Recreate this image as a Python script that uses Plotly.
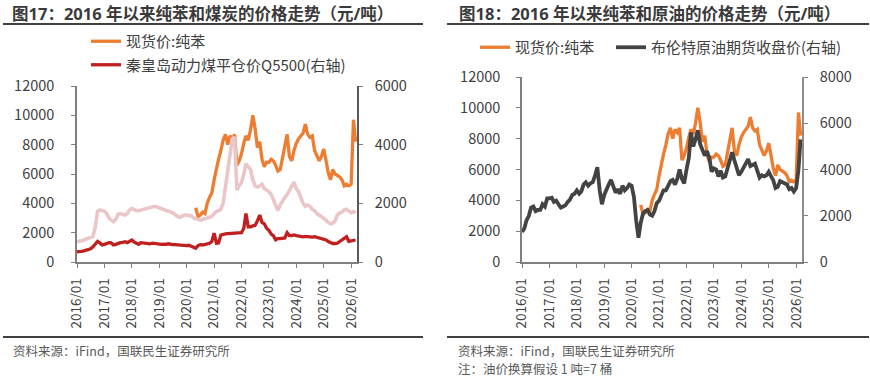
import plotly.graph_objects as go
import pandas as pd

# ---------------- data ----------------
months = pd.date_range("2016-01-01", "2026-03-01", freq="MS")
bz_months = pd.date_range("2020-05-01", "2026-03-01", freq="MS")

# 现货价:纯苯 (元/吨), from 2020-05
benzene = [
    3700, 3100, 3200, 3400, 3300, 4000, 4400, 4700,
    5600, 6500, 7000, 7600, 8300, 8700, 8000, 8600, 8400, 8700, 6600, 6900,
    7400, 8100, 8600, 8300, 9000, 10000, 9100, 7800, 8200, 7000, 6500, 6800,
    6800, 7000, 6900, 6600, 6200, 6300, 7000, 7800, 8700, 7200, 6900, 7600,
    8100, 8400, 8600, 8800, 9400, 8700, 8500, 8600, 7600, 7300, 6900, 7200,
    7700, 6900, 6100, 5600, 6300, 6000, 5900, 5800, 5600, 5200, 5300, 5200,
    5300, 9700, 8200,
]

# unlabeled light series in Fig.17 (left-axis units)
coal_light = [
    1390, 1400, 1450, 1500, 1550, 1610, 1700, 1750, 2400, 3450, 3550, 3500,
    3450, 3300, 3000, 2850, 2750, 2900, 3250, 3300, 3250, 3200, 3300, 3550,
    3650, 3550, 3500, 3500, 3550, 3550, 3600, 3650, 3700, 3750, 3800, 3750,
    3700, 3650, 3600, 3550, 3500, 3450, 3350, 3250, 3100, 3050, 3150, 3200,
    3200, 3200, 3150, 3000, 2950, 2900, 2850, 2900, 2950, 3000, 3050, 3100,
    3300, 3450, 3500, 3600, 4000, 5100, 6500, 7600, 8400, 8500, 4900, 5200,
    5400, 6000, 6700, 6500, 6300, 5600, 5200, 5100, 5200, 5300, 5000, 4900,
    4800, 4600, 4200, 3800, 3500, 3900, 4200, 4400, 4600, 4900, 5200, 5450,
    5000, 4800, 4400, 4000, 3800, 3900, 3800, 3600, 3500, 3300, 3200, 3100,
    3000, 2850, 2700, 2600, 2650, 2800, 3200, 3350, 3400, 3550, 3600, 3450,
    3350, 3450, 3350,
]

# 秦皇岛动力煤平仓价Q5500 (右轴)
coal_q5500 = [
    350, 350, 360, 380, 400, 410, 450, 520, 600, 700, 650, 580,
    600, 620, 660, 650, 580, 600, 640, 660, 670, 690, 660, 700,
    750, 680, 630, 600, 660, 650, 620, 630, 620, 640, 630, 610,
    620, 600, 610, 600, 620, 600, 590, 590, 580, 580, 570, 560,
    560, 570, 540, 480, 470, 560, 590, 580, 600, 620, 640, 700,
    980, 640, 650, 920, 950, 960, 970, 975, 975, 975, 975, 975,
    1000, 1150, 1650, 1200, 1200, 1230, 1250, 1400, 1600, 1350, 1300, 1150,
    1080, 950, 900, 760, 800, 800, 800, 820, 1000, 900, 900, 920,
    900, 880, 860, 860, 870, 860, 860, 850, 860, 840, 820, 800,
    770, 750, 700, 650, 630, 630, 640, 700, 760, 820, 860, 700,
    720, 740, 750,
]

# 布伦特原油期货收盘价 (右轴, 元/吨)
brent = [
    1300, 1450, 1800, 2000, 2350, 2400, 2200, 2250, 2250, 2500, 2400, 2750,
    2750, 2780, 2600, 2650, 2500, 2350, 2400, 2450, 2600, 2700, 2900, 2950,
    3100, 2950, 3050, 3350, 3450, 3300, 3400, 3450, 3750, 4100, 3100, 2500,
    2900, 3200, 3350, 3550, 3300, 3000, 3150, 2950, 3300, 3100, 3200, 3350,
    3300, 2800, 1800, 1050, 1700, 2100, 2200, 2250, 2050, 2000, 2200, 2550,
    2650, 2950, 3100, 3100, 3300, 3500, 3550, 3350, 3600, 4000, 3600, 3400,
    4000, 4500, 5600, 5000, 5300, 5700, 5100, 4800, 4600, 4800, 4500, 3900,
    4050, 4000, 3700, 3950, 3650, 3700, 4050, 4300, 4750, 4400, 4000, 3750,
    3900, 4100, 4250, 4450, 4150, 4200, 4250, 3950, 3650, 3750, 3700, 3750,
    3900, 3700, 3550, 3200, 3250, 3500, 3450, 3400, 3350, 3150, 3200, 3050,
    3200, 4000, 5300,
]

year_ticks = [f"{y}-01-01" for y in range(2016, 2027)]
year_labels = [f"{y}/01" for y in range(2016, 2027)]

# ---------------- styles ----------------
FONT = "Noto Sans CJK SC, Microsoft YaHei, sans-serif"
TITLE_FONT = "Noto Sans, Noto Sans CJK SC, sans-serif"
ORANGE = "#ED7D31"
RED = "#C0201F"
PINK = "#EBC6C8"
GRAY = "#434343"
AXC = "#7F7F7F"
TXT = "#404040"

W, H = 870, 378
def px(x):
    return x / W
def py(y):
    return 1 - y / H

fig = go.Figure()

fig.add_trace(go.Scatter(x=bz_months, y=benzene, xaxis="x", yaxis="y", mode="lines",
                         name="现货价:纯苯", line=dict(color=ORANGE, width=3.3),
                         legend="legend", legendgroup="a"))
fig.add_trace(go.Scatter(x=months, y=coal_light, xaxis="x", yaxis="y", mode="lines",
                         showlegend=False, line=dict(color=PINK, width=3.6)))
fig.add_trace(go.Scatter(x=months, y=coal_q5500, xaxis="x", yaxis="y2", mode="lines",
                         name="秦皇岛动力煤平仓价Q5500(右轴)", line=dict(color=RED, width=3.3),
                         legend="legend", legendgroup="b"))

fig.add_trace(go.Scatter(x=bz_months, y=benzene, xaxis="x2", yaxis="y3", mode="lines",
                         name="现货价:纯苯", line=dict(color=ORANGE, width=3.3),
                         legend="legend2"))
fig.add_trace(go.Scatter(x=months, y=brent, xaxis="x2", yaxis="y4", mode="lines",
                         name="布伦特原油期货收盘价(右轴)", line=dict(color=GRAY, width=3.8),
                         legend="legend3"))

xcommon = dict(type="date", range=["2016-01-01", "2026-03-20"], tickmode="array",
               tickvals=year_ticks, ticktext=year_labels, tickangle=-90,
               ticks="outside", ticklen=4, tickcolor=AXC, showline=True,
               linecolor=AXC, linewidth=1.5, showgrid=False, zeroline=False,
               automargin=False,
               tickfont=dict(family=FONT, size=13.5, color=TXT), ticklabelstandoff=5)
ycommon = dict(ticks="outside", ticklen=4, tickcolor=AXC, showline=True,
               linecolor=AXC, linewidth=1.5, showgrid=False, zeroline=False,
               automargin=False, tickformat="d",
               tickfont=dict(family=FONT, size=14.5, color=TXT), dtick=2000)

legfont = dict(family=FONT, size=15, color=TXT)
fig.update_layout(
    width=W, height=H, margin=dict(l=0, r=0, t=0, b=0, autoexpand=False),
    paper_bgcolor="white", plot_bgcolor="white",
    font=dict(family=FONT, color=TXT),
    xaxis=dict(domain=[px(77), px(357)], anchor="y", **xcommon),
    yaxis=dict(domain=[py(262), py(86)], anchor="x", range=[0, 12000],
               ticklabelstandoff=14, **ycommon),
    yaxis2=dict(overlaying="y", side="right", anchor="x", range=[0, 6000],
                ticklabelstandoff=9, **{**ycommon, "linecolor": "#595959"}),
    xaxis2=dict(domain=[px(522), px(802)], anchor="y3", **xcommon),
    yaxis3=dict(domain=[py(262), py(77)], anchor="x2", range=[0, 12000],
                ticklabelstandoff=13, **ycommon),
    yaxis4=dict(overlaying="y3", side="right", anchor="x2", range=[0, 8000],
                ticklabelstandoff=9, **{**ycommon, "linecolor": "#8C8C8C"}),
    legend=dict(x=px(86), y=py(25), xanchor="left", yanchor="top",
                orientation="v", bgcolor="rgba(0,0,0,0)", tracegroupgap=1,
                font=legfont),
    legend2=dict(x=px(475), y=py(31), xanchor="left", yanchor="top",
                 orientation="h", bgcolor="rgba(0,0,0,0)", font=legfont),
    legend3=dict(x=px(611), y=py(31), xanchor="left", yanchor="top",
                 orientation="h", bgcolor="rgba(0,0,0,0)", font=legfont),
)

shapes = []
for x0, x1 in [(3, 423), (447, 869)]:
    shapes.append(dict(type="line", xref="paper", yref="paper", x0=px(x0), x1=px(x1),
                       y0=py(24), y1=py(24), line=dict(color="#404040", width=2)))
    shapes.append(dict(type="line", xref="paper", yref="paper", x0=px(x0), x1=px(x1),
                       y0=py(337), y1=py(337), line=dict(color="#404040", width=2)))
fig.update_layout(shapes=shapes)

annos = [
    dict(text="<b>图17：2016 年以来纯苯和煤炭的价格走势（元/吨）</b>", x=px(10), y=py(14),
         font=dict(size=16.5, color="#3A3A3A", family=TITLE_FONT)),
    dict(text="<b>图18：2016 年以来纯苯和原油的价格走势（元/吨）</b>", x=px(457), y=py(14),
         font=dict(size=16.5, color="#3A3A3A", family=TITLE_FONT)),
    dict(text="资料来源：iFind，国联民生证券研究所", x=px(11), y=py(350),
         font=dict(size=12.5, color="#595959", family=FONT)),
    dict(text="资料来源：iFind，国联民生证券研究所", x=px(456), y=py(350),
         font=dict(size=12.5, color="#595959", family=FONT)),
    dict(text="注：油价换算假设 1 吨=7 桶", x=px(456), y=py(368),
         font=dict(size=12.5, color="#595959", family=FONT)),
]
for a in annos:
    fig.add_annotation(xref="paper", yref="paper", xanchor="left", yanchor="middle",
                       showarrow=False, **a)

fig.write_html("out.html", config={"displayModeBar": False},
               post_script="document.body.style.margin='0';document.body.style.overflow='hidden';")
